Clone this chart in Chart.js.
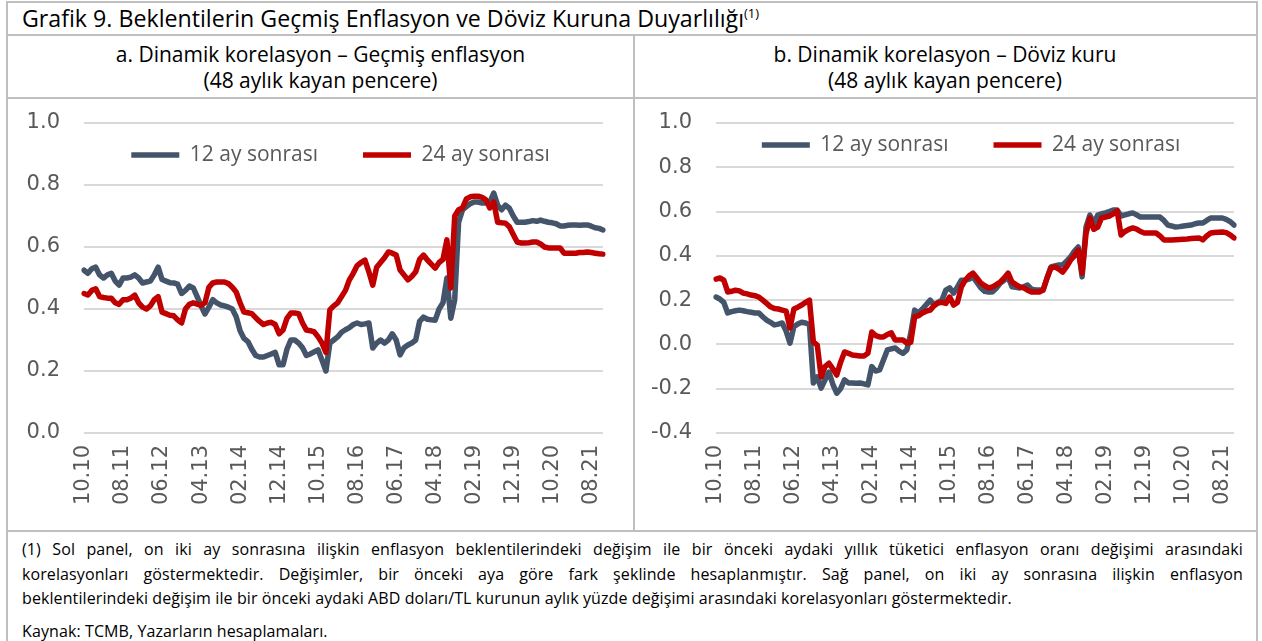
<!DOCTYPE html>
<html lang="tr">
<head>
<meta charset="utf-8">
<title>Grafik 9</title>
<script src="https://cdn.jsdelivr.net/npm/chart.js@4.4.1/dist/chart.umd.min.js"></script>
<style>
  html, body { margin: 0; padding: 0; background: #fff; }
  body { width: 1262px; height: 641px; position: relative; overflow: hidden; font-family: 'Open Sans', sans-serif; color: #000; }
  .frame { position: absolute; left: 6px; top: 1px; width: 1248px; height: 700px; border: 2px solid #bfbfbf; }
  .hline { position: absolute; left: 6px; width: 1252px; height: 2px; background: #bfbfbf; }
  .vline { position: absolute; left: 633px; top: 35px; width: 2px; height: 497px; background: #bfbfbf; }
  .title { position: absolute; left: 22px; top: 3px; font-size: 23.2px; line-height: 30px; white-space: nowrap; }
  .title sup { font-size: 13px; vertical-align: 9px; line-height: 0; }
  .sub { position: absolute; top: 41px; font-size: 21px; line-height: 26px; text-align: center; white-space: nowrap; }
  .note { position: absolute; left: 22px; width: 1221px; font-size: 16px; letter-spacing: 0.1px; line-height: 20px; white-space: nowrap; text-align: justify; text-align-last: justify; }
  .note.last { text-align: left; text-align-last: left; }
  canvas { position: absolute; }
</style>
</head>
<body>
<div class="frame"></div>
<div class="hline" style="top:34px"></div>
<div class="hline" style="top:97px"></div>
<div class="hline" style="top:530px"></div>
<div class="vline"></div>

<div class="title">Grafik 9. Beklentilerin Geçmiş Enflasyon ve Döviz Kuruna Duyarlılığı<sup>(1)</sup></div>
<div class="sub" style="left:8px;width:625px">a. Dinamik korelasyon – Geçmiş enflasyon<br>(48 aylık kayan pencere)</div>
<div class="sub" style="left:635px;width:620px">b. Dinamik korelasyon – Döviz kuru<br>(48 aylık kayan pencere)</div>

<canvas id="chartA" width="625" height="431" style="left:8px;top:99px"></canvas>
<canvas id="chartB" width="619" height="431" style="left:636px;top:99px"></canvas>

<div class="note" style="top:539px">(1) Sol panel, on iki ay sonrasına ilişkin enflasyon beklentilerindeki değişim ile bir önceki aydaki yıllık tüketici enflasyon oranı değişimi arasındaki</div>
<div class="note" style="top:564px">korelasyonları göstermektedir. Değişimler, bir önceki aya göre fark şeklinde hesaplanmıştır. Sağ panel, on iki ay sonrasına ilişkin enflasyon</div>
<div class="note last" style="top:588px">beklentilerindeki değişim ile bir önceki aydaki ABD doları/TL kurunun aylık yüzde değişimi arasındaki korelasyonları göstermektedir.</div>
<div class="note last" style="top:621px">Kaynak: TCMB, Yazarların hesaplamaları.</div>

<script>
// aylar: 10.2010 - 11.2021
const months = [
  '10.10','11.10','12.10',
  '01.11','02.11','03.11','04.11','05.11','06.11','07.11','08.11','09.11','10.11','11.11','12.11',
  '01.12','02.12','03.12','04.12','05.12','06.12','07.12','08.12','09.12','10.12','11.12','12.12',
  '01.13','02.13','03.13','04.13','05.13','06.13','07.13','08.13','09.13','10.13','11.13','12.13',
  '01.14','02.14','03.14','04.14','05.14','06.14','07.14','08.14','09.14','10.14','11.14','12.14',
  '01.15','02.15','03.15','04.15','05.15','06.15','07.15','08.15','09.15','10.15','11.15','12.15',
  '01.16','02.16','03.16','04.16','05.16','06.16','07.16','08.16','09.16','10.16','11.16','12.16',
  '01.17','02.17','03.17','04.17','05.17','06.17','07.17','08.17','09.17','10.17','11.17','12.17',
  '01.18','02.18','03.18','04.18','05.18','06.18','07.18','08.18','09.18','10.18','11.18','12.18',
  '01.19','02.19','03.19','04.19','05.19','06.19','07.19','08.19','09.19','10.19','11.19','12.19',
  '01.20','02.20','03.20','04.20','05.20','06.20','07.20','08.20','09.20','10.20','11.20','12.20',
  '01.21','02.21','03.21','04.21','05.21','06.21','07.21','08.21','09.21','10.21','11.21'
];

const seriesNames = ['12 ay sonrası', '24 ay sonrası'];

// a. gecmis enflasyon
const enf12 = [
  .525,.515,.53,.535,.51,.50,.51,.515,.49,.477,
  .50,.50,.503,.51,.50,.484,.487,.49,.51,.535,
  .495,.49,.485,.484,.48,.45,.46,.474,.468,.44,
  .41,.384,.406,.43,.42,.413,.41,.406,.40,.375,
  .33,.305,.295,.27,.25,.245,.245,.25,.255,.26,
  .22,.22,.27,.30,.30,.29,.275,.25,.255,.262,
  .268,.235,.20,.29,.30,.31,.325,.333,.34,.35,
  .355,.35,.352,.355,.274,.29,.30,.29,.30,.32,
  .30,.252,.275,.284,.29,.30,.36,.374,.367,.365,
  .364,.40,.42,.50,.37,.43,.68,.72,.73,.74,
  .745,.745,.742,.742,.745,.774,.735,.72,.735,.725,
  .70,.68,.68,.68,.682,.685,.683,.687,.683,.68,
  .678,.675,.668,.668,.67,.671,.671,.67,.671,.671,
  .667,.662,.66,.655
];
const enf24 = [
  .45,.445,.46,.465,.44,.437,.435,.435,.42,.415,
  .43,.43,.435,.445,.42,.406,.40,.41,.43,.44,
  .39,.385,.38,.378,.365,.355,.40,.415,.42,.416,
  .412,.42,.47,.484,.487,.487,.487,.482,.47,.455,
  .42,.39,.388,.385,.372,.36,.35,.355,.357,.35,
  .32,.332,.37,.387,.387,.385,.355,.332,.33,.326,
  .31,.29,.26,.397,.41,.42,.44,.46,.494,.515,
  .54,.55,.558,.52,.477,.535,.55,.565,.584,.58,
  .574,.526,.51,.494,.505,.52,.56,.574,.558,.545,
  .532,.55,.56,.623,.468,.70,.72,.726,.755,.762,
  .764,.764,.76,.752,.726,.745,.68,.678,.677,.665,
  .64,.616,.613,.613,.614,.616,.616,.61,.60,.597,
  .597,.597,.597,.58,.58,.58,.58,.582,.582,.584,
  .582,.58,.578,.577
];

// b. doviz kuru
const kur12 = [
  .214,.205,.19,.142,.148,.152,.155,.152,.148,.145,
  .142,.142,.125,.11,.10,.088,.092,.097,.06,.006,
  .08,.092,.10,.097,.09,-.174,-.147,-.197,-.16,-.125,
  -.18,-.22,-.2,-.16,-.174,-.174,-.175,-.174,-.178,-.183,
  -.10,-.12,-.115,-.07,-.025,-.02,-.016,-.03,-.04,-.025,
  .05,.155,.142,.16,.18,.20,.178,.19,.20,.245,
  .255,.232,.26,.29,.29,.295,.305,.28,.255,.24,
  .237,.237,.255,.277,.29,.305,.26,.258,.255,.26,
  .268,.25,.246,.246,.246,.30,.35,.355,.359,.359,
  .375,.395,.42,.44,.305,.53,.584,.548,.584,.59,
  .594,.60,.607,.607,.58,.585,.59,.594,.585,.575,
  .575,.575,.575,.575,.575,.56,.539,.535,.53,.532,
  .535,.537,.539,.545,.548,.548,.56,.571,.571,.571,
  .571,.565,.555,.539
];
const kur24 = [
  .295,.30,.29,.237,.24,.245,.242,.232,.228,.223,
  .22,.214,.20,.185,.17,.162,.16,.155,.15,.074,
  .16,.168,.178,.19,.20,.011,-.003,-.147,-.10,-.085,
  -.11,-.138,-.08,-.034,-.04,-.048,-.05,-.052,-.052,-.04,
  .056,.04,.034,.034,.045,.052,.02,.02,.02,.006,
  .01,.124,.13,.142,.15,.155,.175,.187,.19,.185,
  .214,.178,.19,.26,.29,.31,.322,.30,.277,.265,
  .255,.26,.27,.282,.30,.322,.282,.27,.26,.255,
  .245,.237,.237,.237,.246,.30,.345,.35,.34,.327,
  .35,.38,.40,.426,.322,.50,.571,.52,.53,.571,
  .575,.58,.59,.603,.494,.51,.52,.526,.521,.51,
  .503,.503,.503,.503,.49,.472,.472,.472,.473,.474,
  .475,.476,.478,.48,.481,.472,.49,.503,.505,.507,
  .508,.505,.495,.481
];

const BLUE = '#44546a';
const RED = '#c00000';
const GRID = '#d9d9d9';
const TXT = '#595959';
const FONT = "'Open Sans', sans-serif";
const TICKFONT = "'DejaVu Sans', sans-serif";

// legend sits inside the plot area, like the excel original
function legendInside(offset, shift) {
  return {
    id: 'legendInside',
    afterLayout(chart) {
      const lg = chart.legend;
      const area = chart.chartArea;
      const lab = chart.options.plugins.legend.labels;
      lg.left = area.left + shift;
      lg.right = area.right + shift;
      lg.top = area.top + offset - lab.padding - lab.font.size / 2;
      lg.bottom = lg.top + 120;
    }
  };
}

function lineSet(label, data, color, order) {
  return {
    label, data, order,
    borderColor: color,
    backgroundColor: color,
    borderWidth: 5.5,
    borderCapStyle: 'round',
    borderJoinStyle: 'round',
    tension: 0,
    fill: false,
    pointRadius: 0,
    pointHoverRadius: 0
  };
}

function makeChart(id, s12, s24, yMin, yMax, axisW, padRight, legOffset, legShift) {
  return new Chart(document.getElementById(id), {
    type: 'line',
    data: {
      labels: months,
      datasets: [
        lineSet(seriesNames[0], s12, BLUE, 2),
        lineSet(seriesNames[1], s24, RED, 1)
      ]
    },
    options: {
      responsive: false,
      animation: false,
      devicePixelRatio: 1,
      layout: { padding: { top: 23, left: 0, right: padRight, bottom: 0 } },
      plugins: {
        tooltip: { enabled: false },
        legend: {
          position: 'top',
          maxHeight: 1,
          labels: {
            usePointStyle: true,
            pointStyle: 'line',
            pointStyleWidth: 48,
            padding: 45,
            color: TXT,
            font: { family: FONT, size: 21 },
            sort: (a, b) => a.datasetIndex - b.datasetIndex
          }
        }
      },
      scales: {
        x: {
          offset: false,
          grid: { display: false, drawTicks: false, tickLength: 0 },
          border: { display: false },
          afterFit: s => { s.height = 97; s.paddingLeft = 0; s.paddingRight = 0; },
          ticks: {
            autoSkip: false,
            minRotation: 90,
            maxRotation: 90,
            padding: 12,
            color: TXT,
            font: { family: TICKFONT, size: 21 },
            callback: function (v, i) { return i % 10 === 0 ? this.getLabelForValue(v) : ''; }
          }
        },
        y: {
          min: yMin,
          max: yMax,
          grid: { color: GRID, lineWidth: 2, drawTicks: false, tickLength: 0 },
          border: { display: false },
          afterFit: s => { s.width = axisW; s.paddingTop = 0; s.paddingBottom = 0; },
          ticks: {
            stepSize: 0.2,
            padding: 24,
            color: TXT,
            font: { family: TICKFONT, size: 21 },
            callback: v => (Math.abs(v) < 1e-9 ? 0 : v).toFixed(1)
          }
        }
      }
    },
    plugins: [legendInside(legOffset, legShift)]
  });
}

makeChart('chartA', enf12, enf24, 0, 1, 76, 30, 32, -3);
makeChart('chartB', kur12, kur24, -0.4, 1, 80, 21, 22, -4);
</script>
</body>
</html>
